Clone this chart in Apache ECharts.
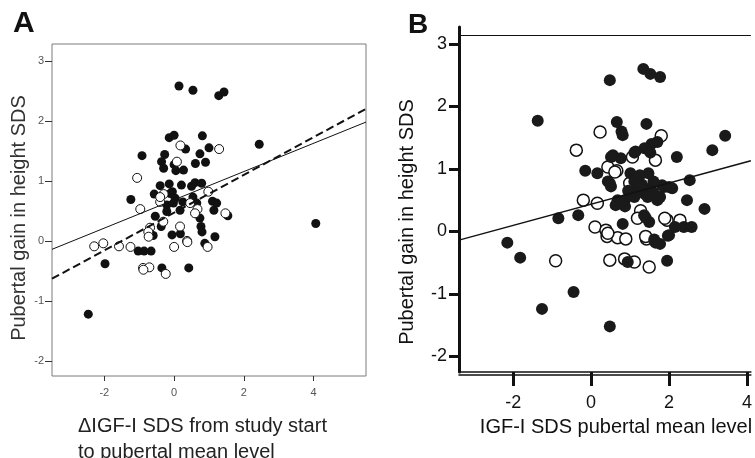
<!DOCTYPE html>
<html>
<head>
<meta charset="utf-8">
<script src="https://cdn.jsdelivr.net/npm/echarts@6/dist/echarts.min.js"></script>
<style>
html,body{margin:0;padding:0;background:#fff;}
#c{width:755px;height:458px;}
</style>
</head>
<body>
<div id="c"></div>
<script>
// ---------- Data: panel A ----------
var filledA = [
  [0.14,2.58],[0.54,2.51],[1.28,2.42],[1.43,2.48],
  [-0.14,1.72],[0.0,1.76],[0.33,1.53],[0.81,1.75],[1.0,1.55],[0.74,1.45],
  [-0.92,1.42],[-0.27,1.44],[-0.36,1.32],[-0.30,1.21],[0.0,1.27],[0.05,1.17],[0.27,1.18],[0.61,1.29],[0.90,1.31],[2.44,1.61],
  [-1.24,0.69],[-0.57,0.78],[-0.40,0.92],[-0.14,0.95],[-0.05,0.82],[0.21,0.93],[0.50,0.91],[0.60,0.97],[0.79,0.96],
  [-0.11,0.79],[0.03,0.71],[-0.02,0.63],[-0.21,0.60],[0.25,0.65],[0.54,0.73],[0.65,0.63],[0.17,0.51],[-0.21,0.49],
  [1.10,0.66],[1.22,0.63],[1.14,0.51],[1.54,0.42],[-0.54,0.41],[0.74,0.38],[4.06,0.29],[-0.37,0.24],[0.77,0.24],
  [-0.60,0.09],[-0.06,0.10],[0.18,0.12],[0.80,0.15],[1.17,0.07],[0.88,-0.04],
  [-1.03,-0.17],[-0.86,-0.17],[-0.66,-0.17],[-1.98,-0.38],[-0.35,-0.45],[0.42,-0.45],[-2.46,-1.22]
];
var openA = [
  [0.18,1.59],[1.29,1.53],[-1.06,1.05],[0.08,1.32],[-0.30,0.78],[-0.40,0.65],[-0.97,0.53],[0.46,0.63],[0.67,0.53],
  [0.98,0.82],[1.47,0.46],[0.17,0.24],[-0.31,0.32],[0.60,0.46],[-0.69,0.22],[-0.40,0.73],[-0.74,0.15],[0.37,0.0],
  [-2.29,-0.09],[-2.03,-0.04],[-1.58,-0.09],[-1.25,-0.10],[-0.73,0.07],[0.0,-0.10],[0.38,-0.02],[0.96,-0.10],
  [-0.89,-0.45],[-0.71,-0.44],[-0.88,-0.48],[-0.24,-0.55]
];
var fitASolid = [[-3.5,-0.14],[5.5,1.98]];
var fitADashed = [[-3.5,-0.63],[5.5,2.2]];

// ---------- Data: panel B ----------
var filledB = [
  [1.34,2.60],[1.52,2.52],[1.77,2.47],[0.48,2.42],[-1.37,1.77],[0.66,1.75],[0.78,1.60],[0.81,1.54],[1.42,1.72],
  [1.70,1.43],[1.55,1.40],[1.37,1.33],[1.14,1.28],[2.20,1.19],[3.11,1.30],[3.44,1.53],[0.56,1.22],[0.76,1.17],
  [0.51,1.19],[1.11,1.26],[1.52,1.26],
  [-0.15,0.97],[0.16,0.93],[0.43,0.80],[0.51,0.72],[1.01,0.93],[1.47,0.93],[1.11,0.80],[1.52,0.69],[1.82,0.74],
  [2.08,0.69],[2.53,0.82],[1.37,0.60],[1.11,0.55],[0.86,0.50],[0.63,0.42],[0.87,0.40],[1.70,0.50],[2.46,0.50],
  [2.91,0.36],[-0.84,0.21],[-0.33,0.26],[0.81,0.12],[1.49,0.15],[2.15,0.07],[2.38,0.07],[2.58,0.07],[1.40,0.22],
  [1.36,0.26],[0.48,0.77],[1.01,0.61],[1.77,0.55],[1.87,0.71],[2.0,0.71],[0.68,0.50],
  [1.2,0.70],[1.3,0.75],[1.6,0.80],[1.25,0.90],[0.95,0.65],[1.45,0.55],[1.6,0.62],
  [-2.15,-0.18],[-1.82,-0.42],[-0.45,-0.97],[-1.26,-1.24],[0.48,-1.52],[0.94,-0.49],[1.95,-0.47],
  [1.65,-0.18],[1.77,-0.20],[1.97,-0.07],[1.62,-0.13],[2.0,-0.06]
];
var openB = [
  [0.23,1.59],[-0.38,1.30],[1.80,1.53],[1.65,1.14],[1.06,1.19],[0.43,1.03],[0.66,0.97],[0.99,0.77],[-0.20,0.50],
  [0.16,0.45],[1.27,0.33],[1.19,0.21],[1.95,0.18],[2.28,0.18],[0.10,0.07],[0.38,0.02],[-0.91,-0.47],[0.48,-0.46],
  [0.86,-0.44],[1.11,-0.49],[1.49,-0.57],[1.42,-0.12],[0.41,-0.08],[0.68,-0.10],[0.89,-0.12],[0.61,0.95],
  [0.43,-0.03],[1.40,-0.08],[1.89,0.21]
];
var fitB = [[-3.39,-0.14],[4.1,1.13]];
var topLineB = 3.13;

// ---------- Tick labels ----------
var xTicks = [-2, 0, 2, 4];
var yTicks = [-2, -1, 0, 1, 2, 3];

var FONT = 'Liberation Sans, Arial, sans-serif';
var chart = echarts.init(document.getElementById('c'), null, {renderer: 'canvas'});

var option = {
  animation: false,
  backgroundColor: '#fff',
  grid: [
    {left: 52, right: 389, top: 44, bottom: 82, show: true, borderColor: '#7a7a7a', borderWidth: 1, backgroundColor: 'transparent'},
    {left: 459, right: 0, top: 27, bottom: 86}
  ],
  xAxis: [
    {gridIndex: 0, type: 'value', min: -3.5, max: 5.5, position: 'bottom',
     axisLine: {show: false, onZero: false}, splitLine: {show: false},
     axisTick: {show: true, length: 5, lineStyle: {color: '#333', width: 1}, customValues: xTicks},
     axisLabel: {margin: 11, fontSize: 11, color: '#555', fontFamily: FONT, customValues: xTicks}},
    {gridIndex: 1, type: 'value', min: -3.39, max: 4.1,
     axisLine: {show: true, onZero: false, lineStyle: {color: '#111', width: 1.5}}, splitLine: {show: false},
     axisTick: {show: true, length: 14, lineStyle: {color: '#111', width: 3}, customValues: xTicks},
     axisLabel: {margin: 22, fontSize: 18, color: '#111', fontFamily: FONT, customValues: xTicks}},
    {gridIndex: 1, type: 'value', min: -3.39, max: 4.1, position: 'bottom', offset: 3,
     axisLine: {show: true, onZero: false, lineStyle: {color: '#111', width: 1.5}}, splitLine: {show: false},
     axisTick: {show: false}, axisLabel: {show: false}}
  ],
  yAxis: [
    {gridIndex: 0, type: 'value', min: -2.25, max: 3.28, position: 'left',
     axisLine: {show: false, onZero: false}, splitLine: {show: false},
     axisTick: {show: true, length: 7, lineStyle: {color: '#333', width: 1}, customValues: yTicks},
     axisLabel: {margin: 8, fontSize: 11, color: '#555', fontFamily: FONT, customValues: yTicks}},
    {gridIndex: 1, type: 'value', min: -2.25, max: 3.27,
     axisLine: {show: true, onZero: false, lineStyle: {color: '#111', width: 3}}, splitLine: {show: false},
     axisTick: {show: true, length: 10, lineStyle: {color: '#111', width: 3}, customValues: yTicks},
     axisLabel: {margin: 12, fontSize: 18, color: '#111', fontFamily: FONT, customValues: yTicks}}
  ],
  series: [
    {type: 'scatter', xAxisIndex: 0, yAxisIndex: 0, data: filledA, symbolSize: 9,
     itemStyle: {color: '#111', opacity: 1}},
    {type: 'scatter', xAxisIndex: 0, yAxisIndex: 0, data: openA, symbolSize: 9,
     itemStyle: {color: '#fff', borderColor: '#111', borderWidth: 1, opacity: 1}},
    {type: 'line', xAxisIndex: 0, yAxisIndex: 0, data: fitASolid, symbol: 'none',
     lineStyle: {color: '#111', width: 1}},
    {type: 'line', xAxisIndex: 0, yAxisIndex: 0, data: fitADashed, symbol: 'none',
     lineStyle: {color: '#111', width: 2, type: [8, 4]}},

    {type: 'line', xAxisIndex: 1, yAxisIndex: 1, data: fitB, symbol: 'none',
     lineStyle: {color: '#111', width: 1.5},
     markLine: {silent: true, symbol: 'none', label: {show: false},
       lineStyle: {color: '#111', width: 1, type: 'solid'}, data: [{yAxis: topLineB}]}},
    {type: 'scatter', xAxisIndex: 1, yAxisIndex: 1, data: openB, symbolSize: 12,
     itemStyle: {color: '#fff', borderColor: '#111', borderWidth: 1.5, opacity: 1}},
    {type: 'scatter', xAxisIndex: 1, yAxisIndex: 1, data: filledB, symbolSize: 12,
     itemStyle: {color: '#1a1a1a', opacity: 1}}
  ],
  graphic: [
    {type: 'text', x: 13, y: 24, style: {text: 'A', font: 'bold 30px ' + FONT, fill: '#111', textAlign: 'left', textVerticalAlign: 'middle'}},
    {type: 'text', x: 408, y: 25, style: {text: 'B', font: 'bold 28px ' + FONT, fill: '#111', textAlign: 'left', textVerticalAlign: 'middle'}},
    {type: 'text', x: 19, y: 218, rotation: Math.PI / 2, style: {text: 'Pubertal gain in height SDS', font: '20px ' + FONT, fill: '#333', textAlign: 'center', textVerticalAlign: 'middle'}},
    {type: 'text', x: 407, y: 222, rotation: Math.PI / 2, style: {text: 'Pubertal gain in height SDS', font: '20px ' + FONT, fill: '#111', textAlign: 'center', textVerticalAlign: 'middle'}},
    {type: 'text', x: 78, y: 426, style: {text: '\u0394IGF-I SDS from study start', font: '20px ' + FONT, fill: '#222', textAlign: 'left', textVerticalAlign: 'middle'}},
    {type: 'text', x: 78, y: 452, style: {text: 'to pubertal mean level', font: '20px ' + FONT, fill: '#222', textAlign: 'left', textVerticalAlign: 'middle'}},
    {type: 'text', x: 616, y: 427, style: {text: 'IGF-I SDS pubertal mean level', font: '20px ' + FONT, fill: '#111', textAlign: 'center', textVerticalAlign: 'middle'}}
  ]
};
chart.setOption(option);
</script>
</body>
</html>
